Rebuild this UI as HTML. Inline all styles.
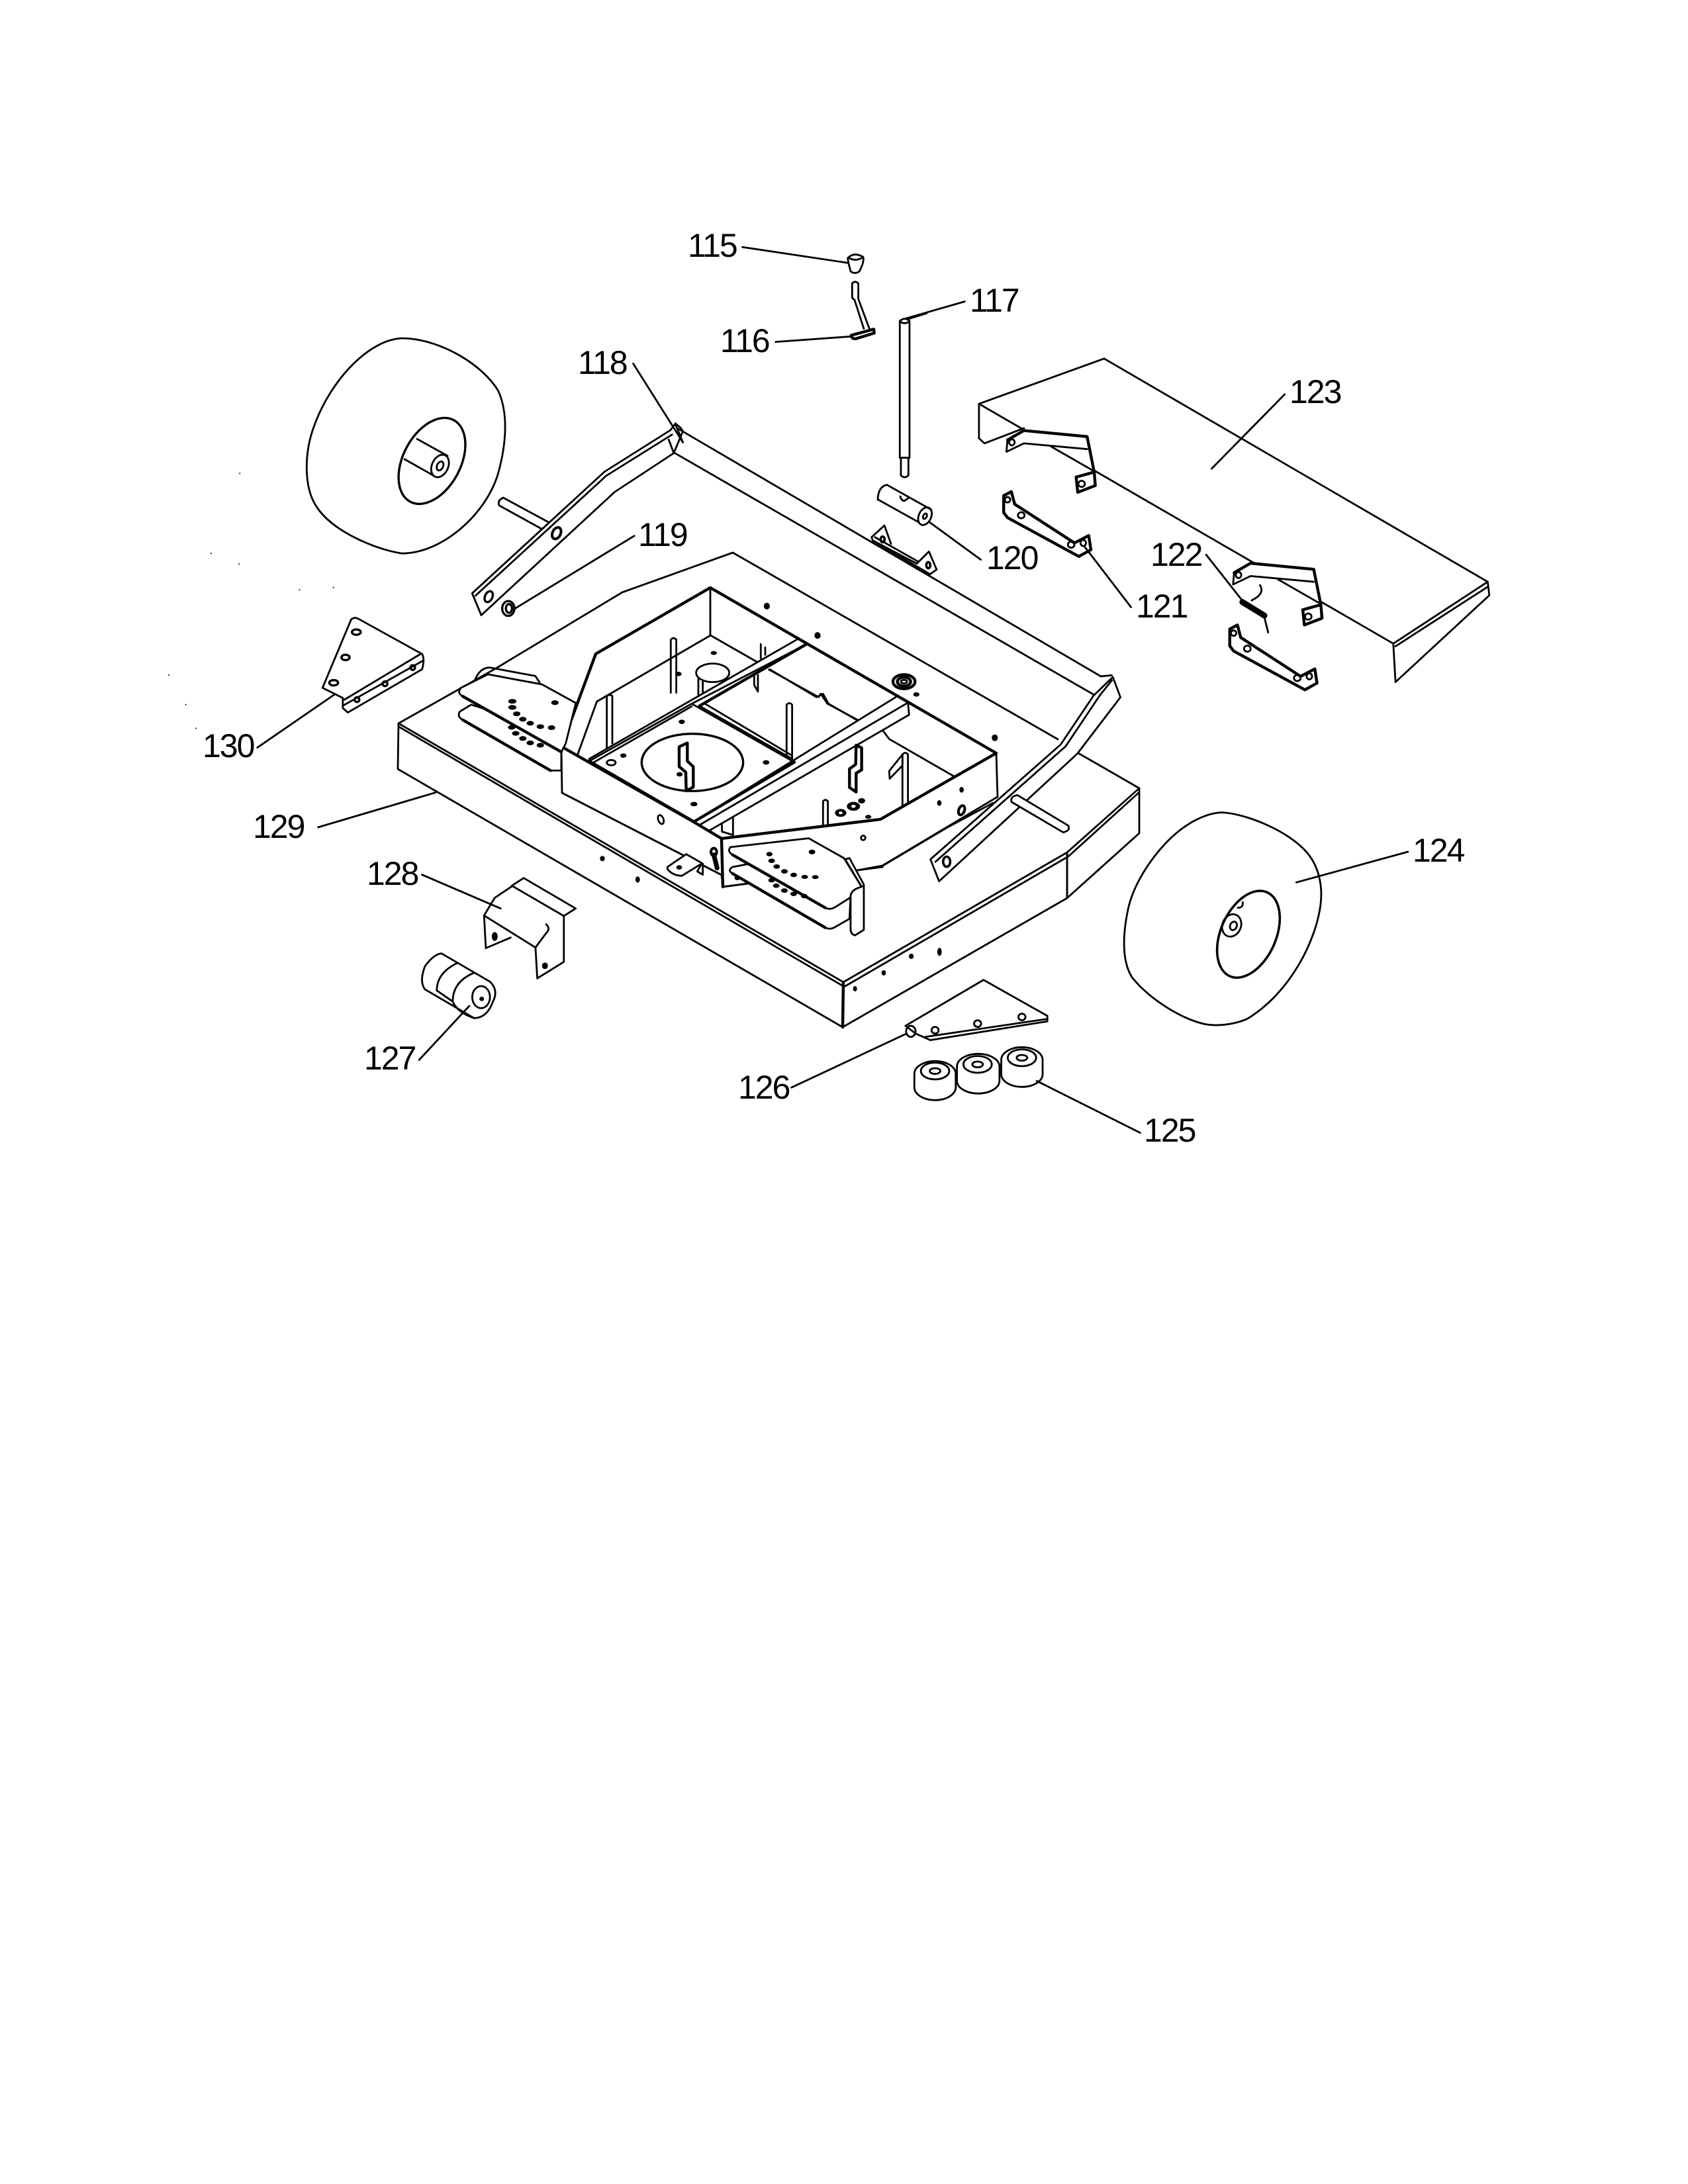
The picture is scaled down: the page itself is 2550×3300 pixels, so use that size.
<!DOCTYPE html>
<html><head><meta charset="utf-8"><style>
html,body{margin:0;padding:0;background:#fff}
svg{display:block}
svg *{vector-effect:non-scaling-stroke}
g.m{fill:none;stroke:#000;stroke-width:2.8;stroke-linejoin:round;stroke-linecap:round}
.t{stroke-width:4.4}
.d{fill:#000;stroke:none}
text{font-family:"Liberation Sans",sans-serif;font-size:50px;fill:#000;stroke:none;letter-spacing:-2px}
</style></head><body>
<svg width="2550" height="3300" viewBox="0 0 2550 3300" xmlns="http://www.w3.org/2000/svg">
<rect width="2550" height="3300" fill="#fff"/>

<!-- deck, real coordinates -->
<g class="m">
<path d="M602,1093 L749,1010 L940,895 L1107,835 L1598,1117"/>
<path d="M1629,1138 L1721,1191 V1259 L1612,1357 V1288 M1612,1357 L1273,1552 L601,1162 L602,1093"/>
<path d="M602,1093 L1274,1484 M604,1099 L1272,1489"/>
<path d="M1274,1484 L1612,1288 L1721,1191 M1277,1490 L1614,1294 L1721,1197"/>
<path class="t" d="M1274,1486 L1273,1552"/>
<path d="M1612,1288 V1357"/>
</g>

<!-- housing, real coordinates -->
<g class="m">
<path fill="#fff" d="M900,988 L1073,888 L1505,1138 L1507,1204 L1333,1308 L1295,1315 L1130,1335 L1092,1340 L1090,1322 L849,1198 L848,1128 Z"/>
<path class="t" d="M848,1128 L900,988 L1073,888 L1505,1138 L1330,1238 L1090,1267"/>
<path d="M1073,888 V960"/>
<path class="t" d="M848,1128 L1048,1242 L1090,1267 L1092,1340"/>
<path d="M849,1198 L1090,1322 M1092,1340 L1130,1335"/>
</g>

<!-- z6 detail -->
<g class="m" transform="translate(800,950) scale(.3333)">
<path d="M305,330 L820,30 L1030,150 M1085,185 L1310,310 L1320,295 L1350,340 L1490,415 M305,330 L218,570"/>
<path d="M640,290 V50 Q652,35 665,50 V290 M350,540 V305 Q362,295 375,305 V520 M1165,575 V345 Q1177,330 1190,345 V590"/>
<path fill="#fff" d="M755,200 A75,42 0 1 1 905,200 A75,42 0 1 1 755,200 Z"/>
<path d="M765,225 V300 M785,240 V290 M1048,70 V135 M1068,85 V118 M1018,215 V255 L1035,285 V210"/>
<path fill="#fff" d="M270,600 L735,340 L1200,605 L745,875 Z"/>
<path class="t" d="M1200,605 L745,875 L270,600"/>
<path d="M270,590 L1210,50 M735,340 L1255,70 M290,606 L735,352 M770,350 L1190,590 M795,340 L1190,575"/>
<path class="t" d="M770,350 L1255,70"/>
<ellipse cx="738" cy="606" rx="230" ry="130" stroke-width="3.4"/>
<path class="t" d="M710,735 L708,650 L678,625 V535 L715,518 V600 L742,625 V718 L710,735"/>
<ellipse cx="370" cy="607" rx="20" ry="12"/>
<g class="d">
<ellipse cx="425" cy="575" rx="14" ry="10"/><ellipse cx="690" cy="422" rx="14" ry="10"/><ellipse cx="1072" cy="606" rx="15" ry="10"/><ellipse cx="745" cy="795" rx="16" ry="10"/><ellipse cx="330" cy="1042" rx="11" ry="12"/><ellipse cx="490" cy="1137" rx="10" ry="14"/><ellipse cx="680" cy="660" rx="14" ry="10"/><ellipse cx="835" cy="110" rx="14" ry="9"/><ellipse cx="1305" cy="33" rx="14" ry="10"/><ellipse cx="675" cy="205" rx="14" ry="10"/>
</g>
<ellipse cx="595" cy="865" rx="12" ry="21" transform="rotate(-20 595 865)"/>
</g>

<!-- z7 detail -->
<g class="m" transform="translate(1000,1000) scale(.3333)">
<path d="M490,35 L700,160 L730,145 L755,190 L885,265 M1000,310 L1030,350 L1325,520"/>
<path d="M145,725 L1060,160 M170,740 L1115,185 L1120,240 L1000,310 L215,765 M170,740 L145,725 M215,765 L270,800"/>
<path d="M272,740 V770 L322,785 V705 M730,745 V632 Q741,620 752,632 V745 M1090,655 V420 Q1102,405 1115,420 V640"/>
<path d="M1030,495 L1090,420 V470 L1032,530 Z"/>
<path class="t" d="M880,378 L905,390 V490 L880,505 V590 L850,570 V485 L878,465 Z"/>
<path d="M1000,925 L1295,750 L1500,640 M1000,930 L885,945"/>
<ellipse cx="1097" cy="90" rx="50" ry="32" class="t"/><ellipse cx="1097" cy="90" rx="30" ry="20" class="t"/><ellipse cx="1097" cy="90" rx="14" ry="8"/>
<ellipse cx="1153" cy="148" rx="14" ry="10" class="d"/>
<ellipse cx="1358" cy="673" rx="13" ry="22" transform="rotate(20 1358 673)" stroke-width="4"/>
<ellipse cx="912" cy="798" rx="10" ry="10"/>
<g class="d">
<ellipse cx="1358" cy="580" rx="10" ry="13"/><ellipse cx="1257" cy="640" rx="10" ry="13"/><ellipse cx="935" cy="703" rx="14" ry="9"/><ellipse cx="810" cy="685" rx="26" ry="18"/><ellipse cx="868" cy="655" rx="30" ry="20"/><ellipse cx="905" cy="630" rx="16" ry="12"/>
</g>
<g fill="#fff" stroke="none"><ellipse cx="810" cy="685" rx="9" ry="6"/><ellipse cx="868" cy="655" rx="10" ry="7"/></g>
<!-- tab and keyhole -->
<path fill="#fff" d="M25,930 L110,872 L185,915 L185,965 L160,950 L180,915 L90,970 Q50,970 25,940 Z"/>
<ellipse cx="78" cy="932" rx="13" ry="10" class="d"/>
<ellipse cx="235" cy="862" rx="13" ry="17" stroke-width="4"/><path d="M235,875 L250,935" stroke-width="7"/>
<!-- right seat plates -->
<path fill="#fff" d="M400,915 L320,930 Q295,945 320,960 L740,1205 Q760,1215 780,1205 L850,1165 L855,1060 L700,1000 Z"/>
<path fill="#fff" d="M310,840 L665,800 L825,890 L905,1020 L860,1065 L780,1115 Q760,1125 740,1115 L320,875 Q295,860 310,840 Z"/>
<path class="t" d="M320,875 L740,1115 M320,960 L740,1205"/>
<path fill="#fff" d="M830,895 L850,890 L915,1010 L915,1215 L875,1240 Q855,1235 855,1210 V1060 Q860,1035 890,1025 L915,1015 M830,895 L905,1020"/>
<g class="d">
<ellipse cx="487" cy="872" rx="14" ry="10"/><ellipse cx="497" cy="902" rx="15" ry="10"/><ellipse cx="520" cy="928" rx="15" ry="10"/><ellipse cx="555" cy="950" rx="15" ry="10"/><ellipse cx="597" cy="966" rx="15" ry="10"/><ellipse cx="647" cy="975" rx="15" ry="9"/><ellipse cx="695" cy="976" rx="15" ry="9"/><ellipse cx="680" cy="862" rx="15" ry="11"/><ellipse cx="497" cy="990" rx="15" ry="10"/><ellipse cx="518" cy="1015" rx="15" ry="10"/><ellipse cx="555" cy="1037" rx="15" ry="10"/><ellipse cx="597" cy="1052" rx="15" ry="10"/><ellipse cx="645" cy="1062" rx="15" ry="10"/><ellipse cx="342" cy="980" rx="13" ry="10"/>
<ellipse cx="1005" cy="1410" rx="10" ry="12"/><ellipse cx="1130" cy="1335" rx="11" ry="12"/><ellipse cx="1258" cy="1315" rx="10" ry="18"/><ellipse cx="875" cy="1482" rx="9" ry="12"/>
</g>
</g>

<!-- left seat plates + left wheel + arm + 130 -->
<g class="m" transform="translate(250,450) scale(.5102)">
<path d="M710,120 C820,125 940,200 985,275 C1015,340 1010,430 985,520 C950,640 820,757 700,757 C620,745 490,690 445,615 C410,560 410,460 440,380 C490,240 610,115 710,120 Z"/>
<ellipse cx="789" cy="483" rx="85" ry="137" transform="rotate(28 789 483)" stroke-width="3.4"/>
<path d="M745,418 L835,468 M708,478 L800,530"/>
<ellipse cx="813" cy="498" rx="24" ry="35" transform="rotate(25 813 498)" fill="#fff"/>
<ellipse cx="813" cy="498" rx="9" ry="14" transform="rotate(25 813 498)"/>
<!-- left arm -->
<path d="M1135,665 L1000,592 Q982,600 988,615 L1115,685"/>
<path fill="#fff" d="M908,875 L1300,515 L1495,392 L1510,372 L1525,385 L1532,395 L1505,460 L1330,575 L935,940 Z"/>
<path d="M918,882 L1305,527 L1500,405 M1490,420 L1505,460 M1510,375 L1532,428"/>
<ellipse cx="957" cy="885" rx="11" ry="17" transform="rotate(25 957 885)" stroke-width="3.4"/>
<ellipse cx="1158" cy="697" rx="12" ry="18" transform="rotate(25 1158 697)" stroke-width="4"/>
<ellipse cx="1015" cy="920" rx="18" ry="22" stroke-width="3.4"/><ellipse cx="1017" cy="920" rx="9" ry="13" stroke-width="3.4"/>
<!-- left seat plate -->
<path d="M915,1135 Q930,1095 960,1095 L1095,1120 L1108,1140"/>
<path fill="#fff" d="M905,1205 L872,1225 Q862,1240 880,1250 L1140,1400 L1172,1400 L1172,1345 L1050,1250 Z"/>
<path fill="#fff" d="M1215,1200 L1115,1145 L955,1115 L875,1155 Q862,1170 880,1180 L1172,1345 L1185,1320 L1215,1200 Z"/>
<path class="t" d="M880,1180 L1172,1345 M880,1250 L1140,1400"/>
<g class="d">
<ellipse cx="1027" cy="1195" rx="12" ry="7"/><ellipse cx="1027" cy="1213" rx="12" ry="7"/><ellipse cx="1040" cy="1232" rx="11" ry="7"/><ellipse cx="1058" cy="1248" rx="11" ry="7"/><ellipse cx="1080" cy="1260" rx="11" ry="7"/><ellipse cx="1110" cy="1270" rx="11" ry="7"/><ellipse cx="1143" cy="1273" rx="11" ry="7"/><ellipse cx="1153" cy="1199" rx="11" ry="7"/><ellipse cx="1025" cy="1272" rx="11" ry="7"/><ellipse cx="1037" cy="1290" rx="11" ry="7"/><ellipse cx="1058" cy="1305" rx="11" ry="7"/><ellipse cx="1080" cy="1318" rx="11" ry="7"/><ellipse cx="1110" cy="1325" rx="11" ry="7"/>
<ellipse cx="220" cy="520" rx="2" ry="2"/><ellipse cx="135" cy="757" rx="2" ry="2"/><ellipse cx="218" cy="788" rx="2" ry="2"/><ellipse cx="397" cy="865" rx="2" ry="2"/><ellipse cx="497" cy="858" rx="2" ry="2"/><ellipse cx="10" cy="1117" rx="2" ry="2"/><ellipse cx="60" cy="1205" rx="2" ry="2"/><ellipse cx="90" cy="1275" rx="2" ry="2"/>
</g>
<!-- 130 -->
<path d="M550,952 Q560,945 570,950 L760,1055 Q768,1070 760,1100 L540,1228 L525,1215 L525,1185 L465,1155 Z"/>
<path d="M530,1190 L755,1055 M527,1207 L762,1075"/>
<ellipse cx="565" cy="990" rx="13" ry="8" stroke-width="3.4"/><ellipse cx="533" cy="1065" rx="12" ry="8" stroke-width="3.4"/><ellipse cx="498" cy="1140" rx="13" ry="8" stroke-width="3.4"/><ellipse cx="567" cy="1190" rx="7" ry="7" stroke-width="3.4"/><ellipse cx="650" cy="1143" rx="7" ry="7" stroke-width="3.4"/><ellipse cx="732" cy="1095" rx="7" ry="7" stroke-width="3.4"/>
<!-- leaders -->
<path d="M1385,195 L1532,428 M1388,705 L1035,920 M272,1332 L500,1175 M452,1568 L800,1465"/>
</g>

<!-- right arm and axle -->
<g class="m" transform="translate(550,750) scale(.7653,.5102)">
<path fill="#fff" d="M1118,1075 L1375,735 L1440,590 L1478,535 L1493,595 L1408,762 L1135,1140 Z"/>
<path d="M1128,1082 L1385,740 L1452,590 L1476,545"/>
<ellipse cx="1150" cy="1082" rx="7" ry="15" stroke-width="3.6"/>
<path fill="#fff" d="M1290,885 L1390,975 Q1395,990 1380,995 L1278,905 Q1275,888 1290,885 Z"/>
<g class="d"><ellipse cx="795" cy="325" rx="6" ry="10"/><ellipse cx="895" cy="412" rx="6" ry="10"/><ellipse cx="1245" cy="715" rx="6" ry="10"/></g>
</g>

<!-- z8: knob, pin, rod -->
<g class="m" transform="translate(1000,340) scale(.3333)">
<path d="M842,150 Q870,120 912,145 Q918,165 895,210 Q875,225 855,210 L845,170 Z M850,150 Q875,165 905,150"/>
<path d="M862,265 Q875,250 890,265 V335 L940,470 M862,265 V330 L873,340 L915,470"/>
<path class="t" d="M858,500 L960,472 L962,490 L880,515 Q860,518 858,500 Z"/>
<path d="M1078,435 Q1100,415 1122,435 V1055 H1078 Z M1083,1055 V1135 Q1100,1152 1117,1135 V1055 M1082,440 Q1100,450 1118,440"/>
<path d="M365,100 L845,172 M515,530 L860,505 M1120,425 L1200,400"/>
</g>

<!-- z9: roller and small bracket -->
<g class="m" transform="translate(1280,700) scale(.3333)">
<path d="M180,98 L380,210 M140,165 L325,268 M180,98 Q140,105 138,165"/>
<ellipse cx="352" cy="240" rx="28" ry="42" transform="rotate(25 352 240)"/>
<ellipse cx="352" cy="240" rx="8" ry="13" transform="rotate(25 352 240)"/>
<path d="M240,150 Q245,172 260,170 L280,155 M370,265 L605,437"/>
<path d="M110,335 L168,282 L198,365 M110,335 L115,350 L315,455 L370,400 L405,482 L375,503 L115,350 M125,335 L320,445"/>
<ellipse cx="160" cy="345" rx="9" ry="13" stroke-width="3.6"/><ellipse cx="367" cy="462" rx="9" ry="14" stroke-width="3.6"/>
</g>

<!-- z2: top parts, cover -->
<g class="m" transform="translate(950,300) scale(.829,.5102)">
<path d="M88,680 L860,1415 L880,1412 M85,755 L848,1470"/>
<path d="M638,608 L866,474 L1565,1135 L1393,1318 M638,608 L1393,1318"/>
<path d="M638,608 V710 L648,725 L720,680 M1393,1318 L1397,1432 L1568,1175 L1565,1135 M1397,1326 L1565,1150"/>
<g>
<path fill="#fff" class="t" d="M690,715 L720,687 L835,705 L848,810 L815,825 L818,870 L850,850 L848,810"/>
<path d="M690,715 L688,750 L720,725 L835,742 M770,735 L845,805"/>
<ellipse cx="698" cy="722" rx="5" ry="9"/><ellipse cx="825" cy="845" rx="6" ry="9"/>
</g>
<g transform="translate(413,393)">
<path fill="#fff" class="t" d="M690,715 L720,687 L835,705 L848,810 L815,825 L818,870 L850,850 L848,810"/>
<path d="M690,715 L688,750 L720,725 L835,742 M770,735 L845,805"/>
<ellipse cx="698" cy="722" rx="5" ry="9"/><ellipse cx="825" cy="845" rx="6" ry="9"/>
</g>
<path class="t" d="M683,880 L697,868 L703,905 L812,1020 L838,998 L842,1040 L820,1060 L690,945 L683,930 Z"/>
<ellipse cx="690" cy="892" rx="5" ry="8"/><ellipse cx="715" cy="938" rx="6" ry="9"/><ellipse cx="806" cy="1025" rx="6" ry="9"/><ellipse cx="828" cy="1020" rx="5" ry="9"/>
<g transform="translate(412,395)">
<path class="t" d="M683,880 L697,868 L703,905 L812,1020 L838,998 L842,1040 L820,1060 L690,945 L683,930 Z"/>
<ellipse cx="690" cy="892" rx="5" ry="8"/><ellipse cx="715" cy="938" rx="6" ry="9"/><ellipse cx="806" cy="1025" rx="6" ry="9"/><ellipse cx="828" cy="1020" rx="5" ry="9"/>
</g>
<path d="M1118,1195 L1158,1235" stroke-width="9"/>
<path d="M1135,1190 Q1160,1170 1150,1145 M1158,1240 L1165,1285"/>
<path d="M1052,1055 L1120,1195 M1195,580 L1062,800 M915,1210 L830,1030 M612,305 L505,355"/>
</g>

<!-- z5: right wheel -->
<g class="m" transform="translate(1650,1180) scale(.3333)">
<path d="M590,143 C700,150 870,220 960,310 C1030,380 1045,480 1035,560 C1015,720 900,960 700,1080 C640,1105 560,1115 500,1100 C400,1075 260,990 180,890 C130,810 140,680 165,570 C200,430 320,270 430,200 C490,160 550,143 590,143 Z"/>
<ellipse cx="708" cy="695" rx="125" ry="208" transform="rotate(24 708 695)" stroke-width="3.6"/>
<ellipse cx="632" cy="655" rx="42" ry="52" transform="rotate(22 632 655)"/>
<ellipse cx="640" cy="657" rx="15" ry="20" transform="rotate(22 640 657)"/>
<path d="M660,575 Q685,575 682,550 M925,460 L1431,321"/>
</g>

<!-- z4: lower parts -->
<g class="m" transform="translate(450,1250) scale(.8929,.3333)">
<path d="M382,230 L470,368 L450,402 L362,265 Z"/>
<path d="M362,268 L333,320 L315,400 L402,545 L405,685 L450,610 V402 M315,400 L318,548 L360,500 M402,545 L420,480 Q428,460 420,440"/>
<ellipse cx="333" cy="495" rx="5" ry="20" class="d"/><ellipse cx="418" cy="628" rx="5" ry="15" class="d"/>
<path d="M243,572 L325,700 Q340,740 330,790 Q320,865 298,865 L215,735 Q205,700 215,630 Q230,575 243,572 Z"/>
<path d="M270,615 Q235,660 235,740 L262,790 M298,660 Q262,700 262,790 Q270,840 298,865"/>
<ellipse cx="310" cy="770" rx="15" ry="50"/><ellipse cx="311" cy="778" rx="4" ry="10" class="d"/>
<rect x="1043" y="1060" width="70" height="177" rx="35" ry="58"/>
<rect x="1115" y="1027" width="72" height="180" rx="36" ry="58"/>
<rect x="1190" y="997" width="70" height="180" rx="35" ry="58"/>
<ellipse cx="1078" cy="1105" rx="24" ry="38"/><ellipse cx="1078" cy="1105" rx="9" ry="13"/>
<ellipse cx="1150" cy="1075" rx="24" ry="38"/><ellipse cx="1150" cy="1075" rx="9" ry="13"/>
<ellipse cx="1225" cy="1045" rx="24" ry="38"/><ellipse cx="1225" cy="1045" rx="9" ry="13"/>
<path d="M1160,692 L1268,855 V880 L1070,965 L1045,935 L1028,900 Z M1062,950 L1265,870"/>
<ellipse cx="1037" cy="925" rx="8" ry="25"/>
<ellipse cx="1078" cy="920" rx="6" ry="15"/><ellipse cx="1150" cy="890" rx="6" ry="15"/><ellipse cx="1225" cy="860" rx="6" ry="15"/>
<path d="M210,215 L343,368 M205,1055 L290,810 M835,1180 L1030,935 M1425,1385 L1250,1150"/>
</g>

<g>
<text x="1039" y="388">115</text>
<text x="1088" y="532">116</text>
<text x="1465" y="471">117</text>
<text x="873" y="565">118</text>
<text x="964" y="825">119</text>
<text x="1490" y="860">120</text>
<text x="1716" y="933">121</text>
<text x="1738" y="855">122</text>
<text x="1948" y="609">123</text>
<text x="2134" y="1302">124</text>
<text x="1728" y="1725">125</text>
<text x="1115" y="1660">126</text>
<text x="550" y="1616">127</text>
<text x="554" y="1337">128</text>
<text x="382" y="1266">129</text>
<text x="306" y="1144">130</text>
</g>
</svg>
</body></html>
